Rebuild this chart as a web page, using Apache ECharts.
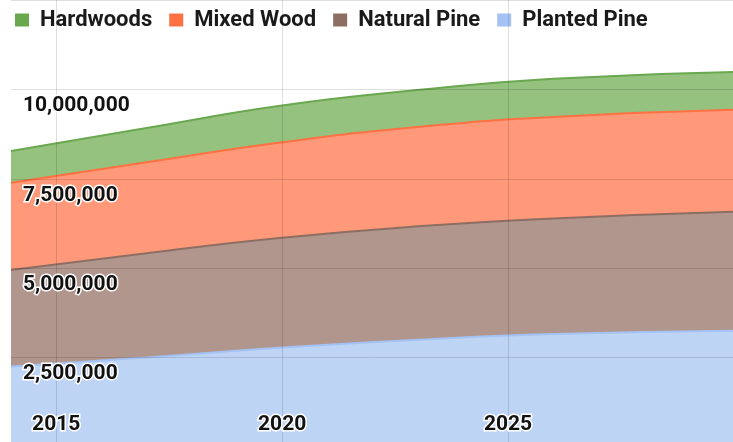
<!DOCTYPE html>
<html><head><meta charset="utf-8">
<script src="https://cdn.jsdelivr.net/npm/echarts@6/dist/echarts.min.js"></script>
<style>html,body{margin:0;padding:0;background:#fff;overflow:hidden}#c{width:733px;height:442px}</style>
</head><body><div id="c"></div>
<script>
const years = [2014, 2017, 2020, 2023, 2026, 2030];
const plantedPine = [2250000, 2500000, 2780000, 3000000, 3160000, 3250000];
const naturalPine = [2700000, 2920000, 3070000, 3170000, 3230000, 3330000];
const mixedWood = [2440000, 2540000, 2670000, 2780000, 2840000, 2850000];
const hardwoods = [890000, 960000, 1030000, 1030000, 1070000, 1060000];
const xTickValues = [2015, 2020, 2025];
const seriesNames = ['Hardwoods', 'Mixed Wood', 'Natural Pine', 'Planted Pine'];
const lineColors = {
  'Planted Pine': '#a4c2f4',
  'Natural Pine': '#8d6e63',
  'Mixed Wood': '#ff7043',
  'Hardwoods': '#6aa84f'
};
const fillColors = {
  'Planted Pine': '#bed4f5',
  'Natural Pine': '#b0968d',
  'Mixed Wood': '#ff9979',
  'Hardwoods': '#95c37f'
};
const dataByName = {
  'Planted Pine': plantedPine,
  'Natural Pine': naturalPine,
  'Mixed Wood': mixedWood,
  'Hardwoods': hardwoods
};
const stackOrder = ['Planted Pine', 'Natural Pine', 'Mixed Wood', 'Hardwoods'];

// cumulative (stacked) totals computed from the series arrays
const cumulative = {};
stackOrder.forEach((name, k) => {
  cumulative[name] = dataByName[name].map((v, i) =>
    v + (k > 0 ? cumulative[stackOrder[k - 1]][i] : 0));
});

const labelStyle = {
  color: '#111',
  fontFamily: 'Roboto',
  fontWeight: 'bold',
  fontSize: 21,
  textBorderColor: '#fff',
  textBorderWidth: 3
};
const gridLine = {show: true, lineStyle: {color: 'rgba(0,0,0,0.13)', width: 1}};

const chart = echarts.init(document.getElementById('c'), null, {renderer: 'canvas'});
chart.setOption({
  animation: false,
  color: seriesNames.map(n => lineColors[n]),
  legend: {
    data: seriesNames.map(n => ({name: n, itemStyle: {color: lineColors[n]}})),
    left: 10,
    top: 4,
    icon: 'rect',
    itemWidth: 14,
    itemHeight: 13,
    itemGap: 17,
    textStyle: {fontFamily: 'Roboto', fontWeight: 'bold', fontSize: 22, color: '#1a1a1a', padding: [0, 0, 0, 6]}
  },
  grid: {left: 11, right: -1, top: 0, height: 447, containLabel: false, outerBoundsMode: 'none'},
  xAxis: [{
    type: 'value', min: 2014, max: 2030, z: 5,
    axisLine: {show: false},
    axisTick: {show: false, customValues: xTickValues},
    splitLine: gridLine,
    axisLabel: {show: false, customValues: xTickValues}
  }, {
    type: 'value', min: 2014, max: 2030, position: 'bottom', z: 10,
    axisLine: {show: false},
    axisTick: {show: false, customValues: xTickValues},
    splitLine: {show: false},
    axisLabel: Object.assign({inside: true, margin: 12, customValues: xTickValues,
      formatter: v => String(v)}, labelStyle)
  }],
  yAxis: [{
    type: 'value', min: 0, max: 12500000, interval: 2500000, z: 5,
    axisLine: {show: false},
    axisTick: {show: false},
    splitLine: gridLine,
    axisLabel: {show: false}
  }, {
    type: 'value', min: 0, max: 12500000, interval: 2500000, position: 'left', z: 10,
    axisLine: {show: false},
    axisTick: {show: false},
    splitLine: {show: false},
    axisLabel: Object.assign({inside: true, margin: 12, verticalAlign: 'top', padding: [6, 0, 0, 0],
      showMinLabel: false, showMaxLabel: false,
      formatter: v => v.toLocaleString('en-US')}, labelStyle)
  }],
  series: stackOrder.slice().reverse().map(name => ({
    name: name,
    type: 'line',
    xAxisIndex: 0,
    yAxisIndex: 0,
    z: 1,
    smooth: true,
    symbol: 'none',
    color: lineColors[name],
    lineStyle: {width: 2, color: lineColors[name]},
    areaStyle: {color: fillColors[name], opacity: 1},
    data: years.map((y, i) => [y, cumulative[name][i]])
  }))
});
</script></body></html>
